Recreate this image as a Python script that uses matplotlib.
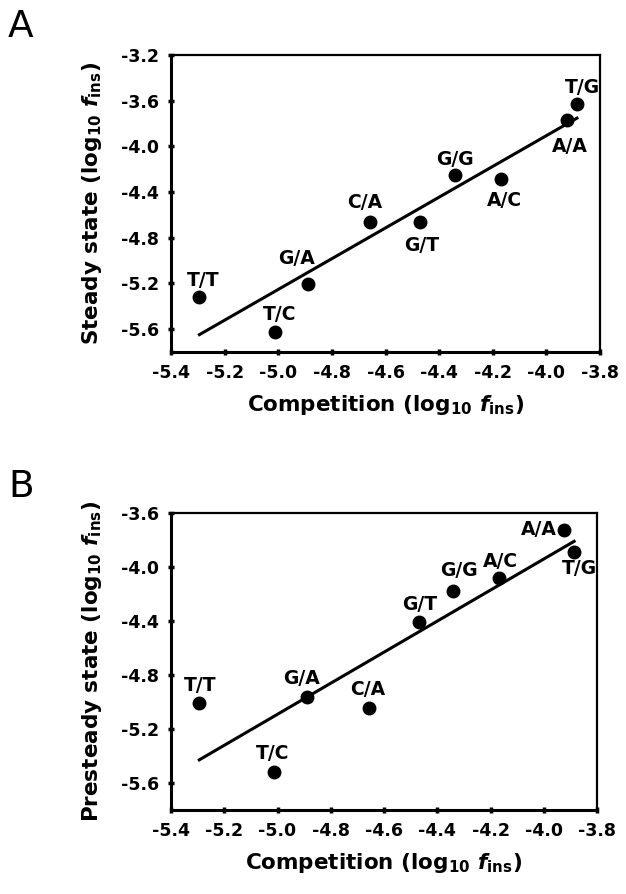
import numpy as np
import matplotlib
matplotlib.use('Agg')
import matplotlib.pyplot as plt

plt.rcParams['font.family'] = ['DejaVu Sans']
plt.rcParams['font.weight'] = 'bold'
plt.rcParams['axes.unicode_minus'] = False
plt.rcParams['mathtext.fontset'] = 'custom'
plt.rcParams['mathtext.rm'] = 'DejaVu Sans:bold'
plt.rcParams['mathtext.it'] = 'DejaVu Sans:italic:bold'
plt.rcParams['mathtext.bf'] = 'DejaVu Sans:bold'

# mismatch pairs and values
pairs = ['T/T', 'T/C', 'G/A', 'C/A', 'G/T', 'G/G', 'A/C', 'A/A', 'T/G']
competition = [-5.294, -5.014, -4.889, -4.657, -4.470, -4.341, -4.168, -3.924, -3.886]
steady = [-5.317, -5.627, -5.209, -4.660, -4.660, -4.247, -4.288, -3.768, -3.630]
presteady = [-5.005, -5.518, -4.963, -5.045, -4.405, -4.180, -4.080, -3.725, -3.888]

x_ticks = [-5.4, -5.2, -5.0, -4.8, -4.6, -4.4, -4.2, -4.0, -3.8]
y_ticks_a = [-3.2, -3.6, -4.0, -4.4, -4.8, -5.2, -5.6]
y_ticks_b = [-3.6, -4.0, -4.4, -4.8, -5.2, -5.6]

# label offsets in points (dx, dy) relative to each dot
offs_a = {'T/T': (3, 12), 'T/C': (4, 13), 'G/A': (-8, 19), 'C/A': (-4, 14),
          'G/T': (1, -17), 'G/G': (0, 11), 'A/C': (2, -15), 'A/A': (2, -19),
          'T/G': (4, 12)}
offs_b = {'T/T': (1, 12), 'T/C': (-1, 13), 'G/A': (-4, 13), 'C/A': (-1, 13),
          'G/T': (1, 12), 'G/G': (4, 15), 'A/C': (1, 12), 'A/A': (-18, 0),
          'T/G': (4, -12)}


def draw_panel(ax, yvals, yticks, ylim, ylabel, offs):
    x = np.array(competition)
    y = np.array(yvals)
    k, b = np.polyfit(x, y, 1)
    xl = np.array([x.min(), x.max()])
    ax.plot(xl, k * xl + b, color='black', lw=2.2)
    ax.plot(x, y, 'o', color='black', ms=9)
    for name, xi, yi in zip(pairs, x, y):
        ax.annotate(name, (xi, yi), xytext=offs[name], textcoords='offset points',
                    ha='center', va='center', fontsize=13.5, fontweight='bold')
    ax.set_xlim(-5.4, -3.8)
    ax.set_ylim(*ylim)
    ax.set_xticks(x_ticks)
    ax.set_xticklabels(['%.1f' % v for v in x_ticks])
    ax.set_yticks(yticks)
    ax.set_yticklabels(['%.1f' % v for v in yticks])
    ax.tick_params(direction='inout', length=5, width=2.5, labelsize=12.5, pad=6)
    ax.spines['left'].set_linewidth(2.2)
    ax.spines['bottom'].set_linewidth(2.2)
    ax.spines['top'].set_linewidth(1.6)
    ax.spines['right'].set_linewidth(1.6)
    ax.set_xlabel(r'Competition (log$_{10}$ $f_{\mathrm{ins}}$)', fontsize=15.5,
                  fontweight='bold', labelpad=8)
    ax.set_ylabel(ylabel, fontsize=15.5, fontweight='bold', labelpad=12)


fig = plt.figure(figsize=(6.26, 8.94), dpi=100)
ax1 = fig.add_axes([0.2732, 0.6063, 0.6853, 0.3322])
ax2 = fig.add_axes([0.2732, 0.0940, 0.6805, 0.3322])

draw_panel(ax1, steady, y_ticks_a, (-5.8, -3.2),
           r'Steady state (log$_{10}$ $f_{\mathrm{ins}}$)', offs_a)
draw_panel(ax2, presteady, y_ticks_b, (-5.8, -3.6),
           r'Presteady state (log$_{10}$ $f_{\mathrm{ins}}$)', offs_b)

fig.text(0.013, 0.990, 'A', fontsize=27, fontweight='normal', va='top', ha='left')
fig.text(0.013, 0.475, 'B', fontsize=27, fontweight='normal', va='top', ha='left')

fig.savefig('out.png', dpi=100)
